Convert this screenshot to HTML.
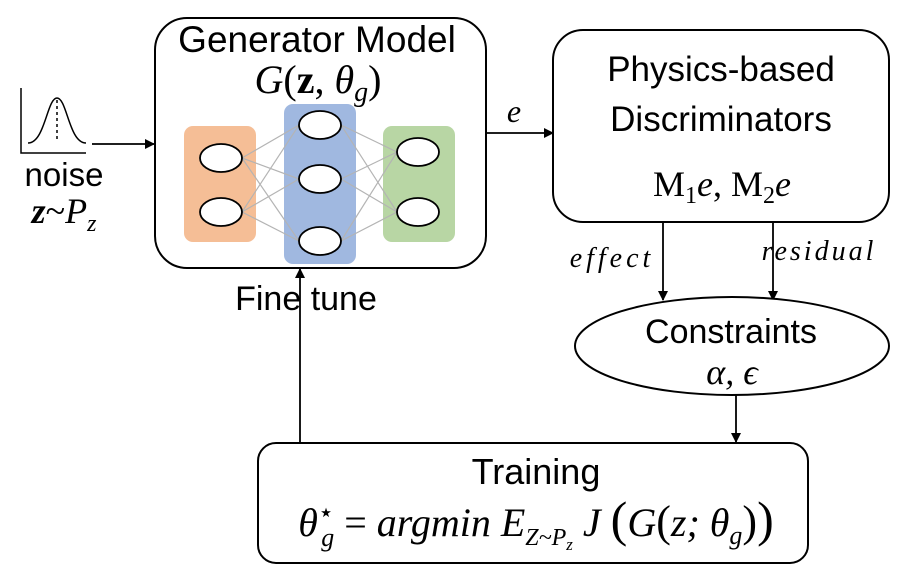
<!DOCTYPE html>
<html><head><meta charset="utf-8">
<style>
html,body{margin:0;padding:0;background:#fff;}
svg{display:block;}
.t{font-family:"Liberation Sans",sans-serif;fill:#000;}
.m{font-family:"Liberation Serif",serif;font-style:italic;fill:#000;}
.r{font-family:"Liberation Serif",serif;fill:#000;}
</style></head>
<body>
<svg width="913" height="566" viewBox="0 0 913 566" xmlns="http://www.w3.org/2000/svg">
<defs>
<marker id="ah" markerWidth="10" markerHeight="10" refX="9" refY="5" orient="auto" markerUnits="userSpaceOnUse">
<path d="M0,0 L10,5 L0,10 z" fill="#000"/>
</marker>
</defs>
<g>
<path d="M21,88 L21,153 L86,153" fill="none" stroke="#000" stroke-width="1.5"/>
<path d="M28,143 C45,143 47,98 57,98 C67,98 69,143 86,143" fill="none" stroke="#000" stroke-width="1.5"/>
<line x1="57" y1="100" x2="57" y2="140" stroke="#000" stroke-width="1.5" stroke-dasharray="3,3"/>
</g>
<text class="t" x="64" y="186" font-size="33" text-anchor="middle">noise</text>
<text class="m" x="64" y="223" font-size="36" text-anchor="middle"><tspan font-weight="bold">z</tspan><tspan font-style="normal">~</tspan>P<tspan font-size="24" dy="8">z</tspan></text>
<line x1="92" y1="144" x2="154" y2="144" stroke="#000" stroke-width="1.8" marker-end="url(#ah)"/>

<rect x="155" y="18" width="331" height="250" rx="32" fill="#fff" stroke="#000" stroke-width="2"/>
<text class="t" x="317" y="52" font-size="37" text-anchor="middle">Generator Model</text>
<text class="m" x="318" y="93" font-size="40" text-anchor="middle">G<tspan font-style="normal">(</tspan><tspan font-weight="bold" font-style="normal">z</tspan><tspan font-style="normal">, </tspan>θ<tspan font-size="28" dy="8">g</tspan><tspan dy="-8" font-style="normal">)</tspan></text>
<rect x="184" y="126" width="72" height="116" rx="9" fill="#f5be96"/>
<rect x="284" y="104" width="72" height="160" rx="9" fill="#a0b8e0"/>
<rect x="383" y="126" width="72" height="116" rx="9" fill="#b8d6a4"/>
<g stroke="#b4b4b4" stroke-width="1.2">
<line x1="242" y1="158" x2="299" y2="125"/><line x1="242" y1="158" x2="299" y2="179"/><line x1="242" y1="158" x2="299" y2="241"/>
<line x1="242" y1="212" x2="299" y2="125"/><line x1="242" y1="212" x2="299" y2="179"/><line x1="242" y1="212" x2="299" y2="241"/>
<line x1="341" y1="125" x2="397" y2="152"/><line x1="341" y1="125" x2="397" y2="212"/>
<line x1="341" y1="179" x2="397" y2="152"/><line x1="341" y1="179" x2="397" y2="212"/>
<line x1="341" y1="241" x2="397" y2="152"/><line x1="341" y1="241" x2="397" y2="212"/>
</g>
<g fill="#fff" stroke="#000" stroke-width="1.8">
<ellipse cx="221" cy="158" rx="21" ry="14"/><ellipse cx="221" cy="212" rx="21" ry="14"/>
<ellipse cx="320" cy="125" rx="21" ry="14"/><ellipse cx="320" cy="179" rx="21" ry="14"/><ellipse cx="320" cy="241" rx="21" ry="14"/>
<ellipse cx="418" cy="152" rx="21" ry="14"/><ellipse cx="418" cy="212" rx="21" ry="14"/>
</g>

<line x1="486" y1="133" x2="553" y2="133" stroke="#000" stroke-width="1.8" marker-end="url(#ah)"/>
<text class="m" x="514" y="122" font-size="32" text-anchor="middle">e</text>

<rect x="553" y="30" width="336" height="192" rx="30" fill="#fff" stroke="#000" stroke-width="2"/>
<text class="t" x="721" y="81" font-size="35" text-anchor="middle">Physics-based</text>
<text class="t" x="721" y="131" font-size="35" text-anchor="middle">Discriminators</text>
<text class="r" x="722" y="196" font-size="36" text-anchor="middle">M<tspan font-size="24" dy="7">1</tspan><tspan dy="-7" font-style="italic">e</tspan>, M<tspan font-size="24" dy="7">2</tspan><tspan dy="-7" font-style="italic">e</tspan></text>

<line x1="663" y1="222" x2="663" y2="300" stroke="#000" stroke-width="1.8" marker-end="url(#ah)"/>
<line x1="773" y1="222" x2="773" y2="300" stroke="#000" stroke-width="1.8" marker-end="url(#ah)"/>
<text class="m" x="612" y="267" font-size="28" text-anchor="middle" letter-spacing="4">effect</text>
<text class="m" x="819" y="260" font-size="28" text-anchor="middle" letter-spacing="3">residual</text>

<ellipse cx="732" cy="346" rx="157" ry="49" fill="#fff" stroke="#000" stroke-width="2"/>
<text class="t" x="731" y="343" font-size="34" text-anchor="middle">Constraints</text>
<text class="m" x="732" y="384" font-size="36" text-anchor="middle">α, ϵ</text>
<line x1="736" y1="395" x2="736" y2="442" stroke="#000" stroke-width="1.8" marker-end="url(#ah)"/>

<rect x="258" y="443" width="550" height="120" rx="18" fill="#fff" stroke="#000" stroke-width="2"/>
<text class="t" x="536" y="484" font-size="36" text-anchor="middle">Training</text>
<text class="m" x="536" y="536" font-size="40" text-anchor="middle">θ<tspan font-size="26" dy="-15" font-style="normal">⋆</tspan><tspan font-size="26" dx="-13" dy="25">g</tspan><tspan dy="-10" font-style="normal"> = </tspan>argmin E<tspan font-size="24" dy="9">Z~P</tspan><tspan font-size="17" dy="5">z</tspan><tspan dy="-14"> J </tspan><tspan font-style="normal" font-size="50">(</tspan>G<tspan font-style="normal" font-size="44">(</tspan>z; θ<tspan font-size="26" dy="8">g</tspan><tspan font-style="normal" font-size="44" dy="-8">)</tspan><tspan font-style="normal" font-size="50">)</tspan></text>

<line x1="300" y1="443" x2="300" y2="269" stroke="#000" stroke-width="1.8" marker-end="url(#ah)"/>
<text class="t" x="306" y="310" font-size="34" text-anchor="middle">Fine tune</text>
</svg>
</body></html>
